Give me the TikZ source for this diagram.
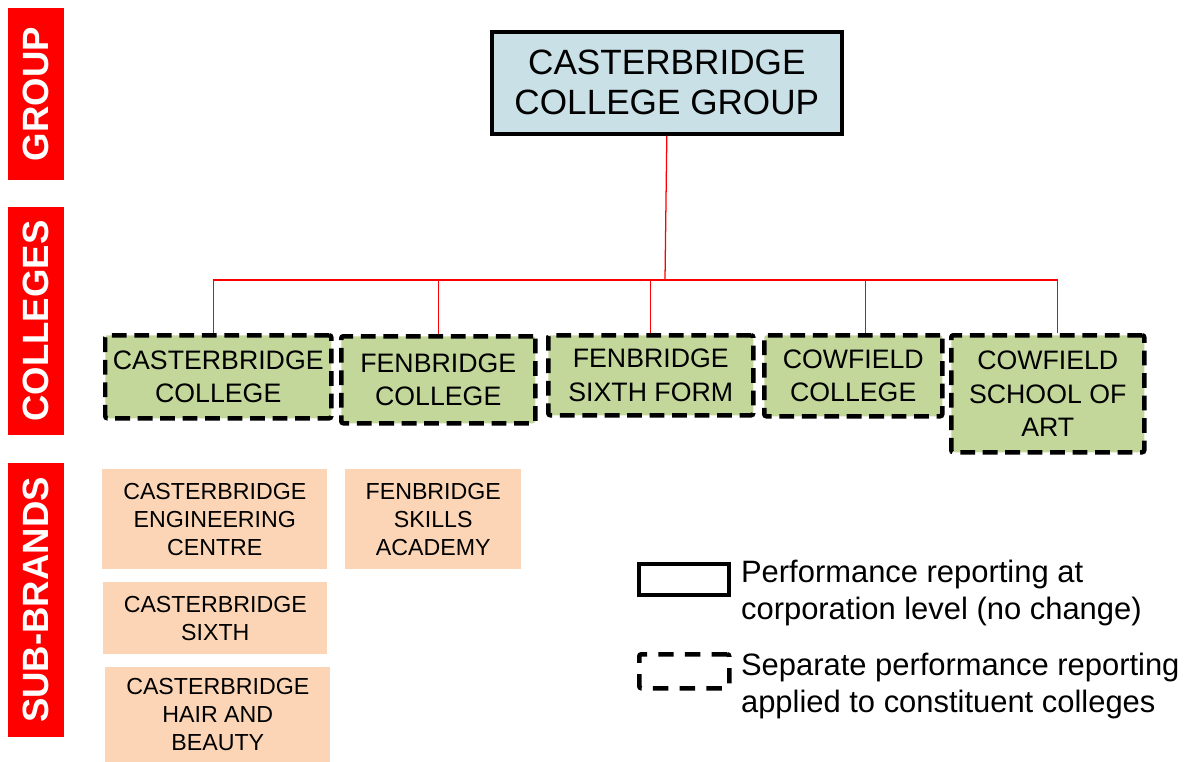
\documentclass[tikz,border=0pt]{standalone}
\usepackage{fontspec}
\setmainfont{Liberation Sans}
\usetikzlibrary{positioning}
\definecolor{groupblue}{RGB}{200,224,230}
\definecolor{collegegreen}{RGB}{196,215,155}
\definecolor{subpeach}{RGB}{251,213,181}

\begin{document}
\begin{tikzpicture}[every node/.style={inner sep=2pt,align=center},
  groupbox/.style={draw,line width=2.6pt,fill=groupblue,font=\fontsize{25}{28.5}\selectfont},
  college/.style={draw,line width=3.2pt,dash pattern=on 10.5pt off 5.5pt,rounded corners=1.5pt,fill=collegegreen,font=\fontsize{19}{24}\selectfont},
  subbrand/.style={fill=subpeach,font=\fontsize{16.5}{20}\selectfont},
  levelbar/.style={fill=red,text=white,rotate=90,minimum height=1.4cm,font=\bfseries\fontsize{26}{30}\selectfont},
  tree/.style={red,line width=0.9pt},
  keytext/.style={anchor=west,align=left,font=\fontsize{22}{26}\selectfont}]
\useasboundingbox (0,0) rectangle (29.75,-19.05);

% levels
\node[levelbar,minimum width=4.3cm] (lgroup) at (0.9,-2.35) {GROUP};
\node[levelbar,minimum width=5.7cm] (lcolleges) at (0.9,-8.025) {COLLEGES};
\node[levelbar,minimum width=6.85cm] (lsub) at (0.9,-15.0) {SUB-BRANDS};

% group
\node[groupbox,anchor=north west,minimum width=8.75cm,minimum height=2.55cm] (group) at (12.25,-0.75) {CASTERBRIDGE\\COLLEGE GROUP};

% colleges
\node[college,anchor=north west,minimum width=5.65cm,minimum height=2.075cm] (cc) at (2.575,-8.325) {CASTERBRIDGE\\COLLEGE};
\node[college,anchor=north west,minimum width=4.85cm,minimum height=2.175cm] (fc) at (8.475,-8.35) {FENBRIDGE\\COLLEGE};
\node[college,anchor=north west,minimum width=5.125cm,minimum height=2.0cm] (fs) at (13.65,-8.325) {FENBRIDGE\\SIXTH FORM};
\node[college,anchor=north west,minimum width=4.45cm,minimum height=2.025cm] (cwc) at (19.05,-8.325) {COWFIELD\\COLLEGE};
\node[college,anchor=north west,minimum width=4.825cm,minimum height=2.925cm] (cwa) at (23.725,-8.325) {COWFIELD\\SCHOOL OF\\ART};

% sub-brands
\node[subbrand,anchor=north west,minimum width=5.625cm,minimum height=2.5cm] (sbe) at (2.55,-11.725) {CASTERBRIDGE\\ENGINEERING\\CENTRE};
\node[subbrand,anchor=north west,minimum width=4.4cm,minimum height=2.5cm] (sbf) at (8.625,-11.725) {FENBRIDGE\\SKILLS\\ACADEMY};
\node[subbrand,anchor=north west,minimum width=5.6cm,minimum height=1.8cm] (sbs) at (2.575,-14.55) {CASTERBRIDGE\\SIXTH};
\node[subbrand,anchor=north west,minimum width=5.625cm,minimum height=2.375cm] (sbh) at (2.625,-16.675) {CASTERBRIDGE\\HAIR AND\\BEAUTY};

% tree
\coordinate (bus) at (16.625,-7.0);
\draw[tree] (group.south) -- (bus);
\draw[tree] (bus) -| ([xshift=-0.125cm]cc.north);
\draw[tree] (bus) -| (fc.north);
\draw[tree] (bus) -| (fs.north);
\draw[tree] (bus) -| ([xshift=0.3cm]cwc.north);
\draw[tree] (bus) -| ([xshift=0.25cm]cwa.north);

% key
\node[draw,line width=2.6pt,anchor=north west,minimum width=2.25cm,minimum height=0.775cm] (solidkey) at (15.925,-14.05) {};
\node[draw,line width=3.2pt,dash pattern=on 11pt off 8pt,rounded corners=1.5pt,anchor=north west,minimum width=2.25cm,minimum height=0.85cm] (dashkey) at (15.925,-16.3) {};
\node[keytext] (solidtext) at (18.45,-14.825) {Performance reporting at\\corporation level (no change)};
\node[keytext] (dashtext) at (18.45,-17.15) {Separate performance reporting\\applied to constituent colleges};
\end{tikzpicture}
\end{document}
